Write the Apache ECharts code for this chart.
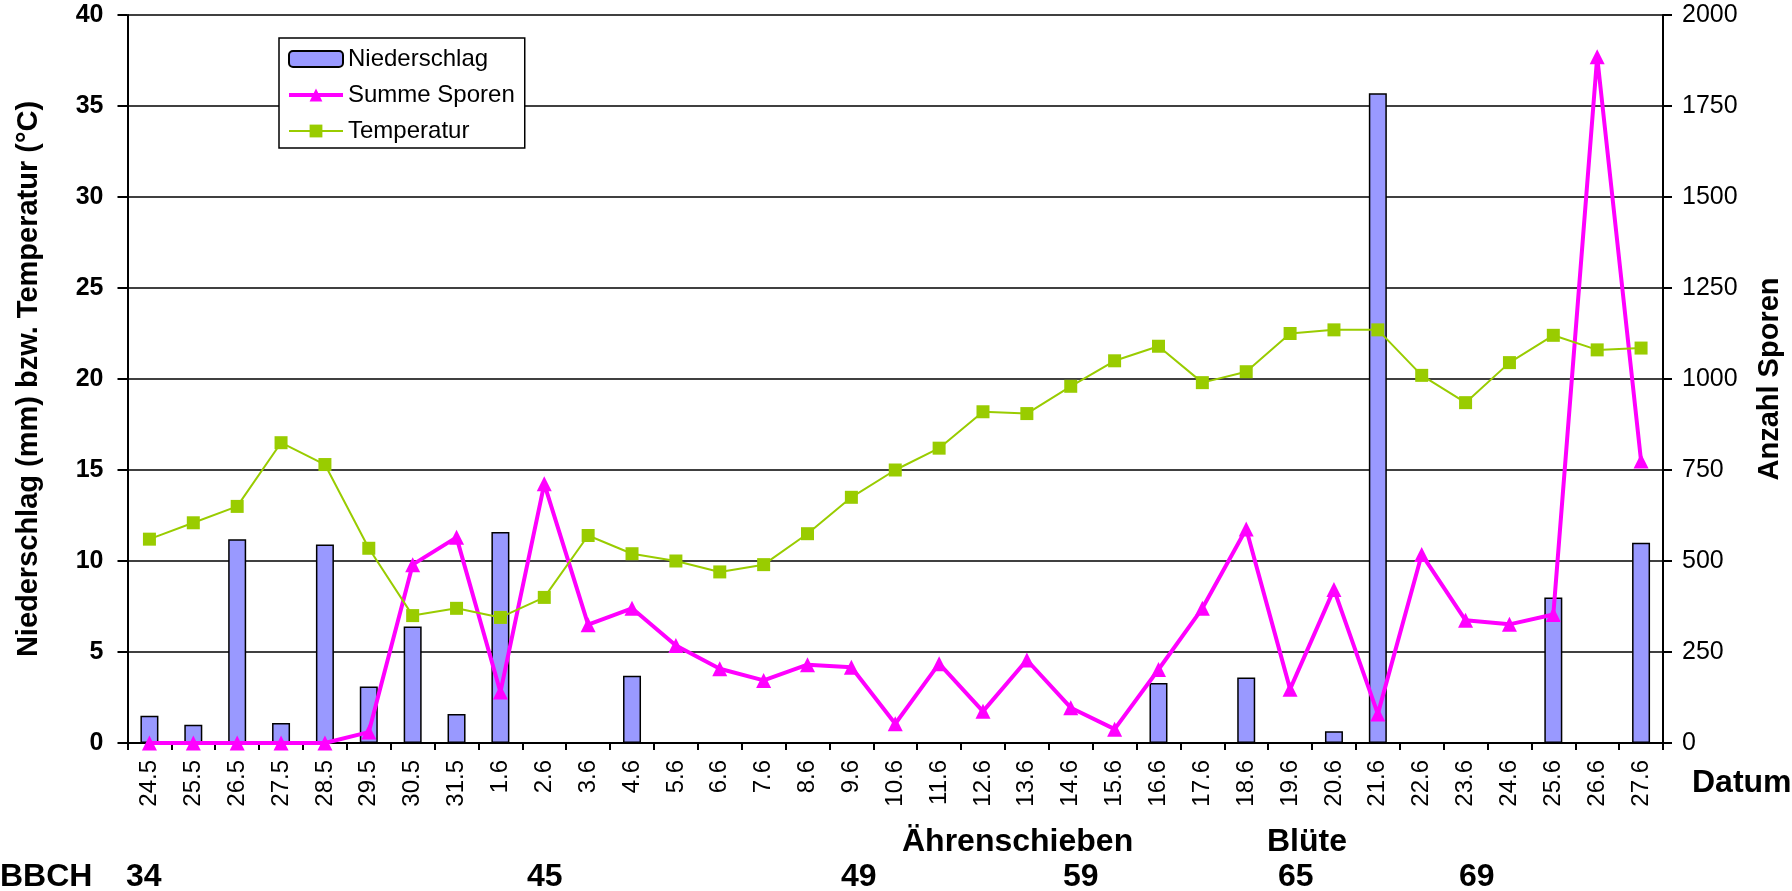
<!DOCTYPE html>
<html>
<head>
<meta charset="utf-8">
<script src="https://cdn.jsdelivr.net/npm/echarts/dist/echarts.min.js"></script>
<style>
  html, body { margin: 0; padding: 0; background: #fff; }
  #chart { width: 1792px; height: 891px; }
</style>
</head>
<body>
<div id="chart"></div>
<script>
// Datum (x-axis categories)
const dates = ['24.5', '25.5', '26.5', '27.5', '28.5', '29.5', '30.5', '31.5',
  '1.6', '2.6', '3.6', '4.6', '5.6', '6.6', '7.6', '8.6', '9.6', '10.6', '11.6',
  '12.6', '13.6', '14.6', '15.6', '16.6', '17.6', '18.6', '19.6', '20.6', '21.6',
  '22.6', '23.6', '24.6', '25.6', '26.6', '27.6'];

// Niederschlag (mm), left axis
const niederschlag = [1.5, 1.0, 11.2, 1.1, 10.9, 3.1, 6.4, 1.6,
  11.6, 0, 0, 3.7,
  0, 0, 0, 0, 0, 0, 0, 0, 0, 0, 0,
  3.3, 0, 3.6, 0, 0.65, 35.7,
  0, 0, 0, 8.0, 0, 11.0];

// Summe Sporen, right axis
const sporen = [0, 0, 0, 0, 0, 30, 490, 565,
  140, 712, 325, 370,
  268, 204, 172, 215, 208, 53, 218, 87, 228, 97, 38,
  202, 370, 588, 148, 422, 80,
  518, 337, 326, 353, 1885, 775];

// Temperatur (°C), left axis
const temperatur = [11.2, 12.1, 13.0, 16.5, 15.3, 10.7, 7.0, 7.4,
  6.9, 8.0, 11.4, 10.4,
  10.0, 9.4, 9.8, 11.5, 13.5, 15.0, 16.2, 18.2, 18.1, 19.6, 21.0,
  21.8, 19.8, 20.4, 22.5, 22.7, 22.7,
  20.2, 18.7, 20.9, 22.4, 21.6, 21.7];

// BBCH stages and phase names below the axis
const bbchStages = ['34', '45', '49', '59', '65', '69'];
const phases = ['Ährenschieben', 'Blüte'];

const FONT = '"Liberation Sans", Arial, sans-serif';
const MAGENTA = '#FF00FF';
const GREEN = '#99CC00';

// where the annotation texts sit (pixels)
const bbchX = [126, 527, 841, 1063, 1278, 1459];
const phaseX = [902, 1267];

const graphics = [
  { type: 'text', left: 0, top: 861, style: { text: 'BBCH', font: 'bold 32px ' + FONT, fill: '#000' } },
  { type: 'text', left: 1692, top: 767, style: { text: 'Datum', font: 'bold 32px ' + FONT, fill: '#000' } }
];
bbchStages.forEach(function (s, i) {
  graphics.push({ type: 'text', left: bbchX[i], top: 861, style: { text: s, font: 'bold 32px ' + FONT, fill: '#000' } });
});
phases.forEach(function (p, i) {
  graphics.push({ type: 'text', left: phaseX[i], top: 826, style: { text: p, font: 'bold 32px ' + FONT, fill: '#000' } });
});

const chart = echarts.init(document.getElementById('chart'));
chart.setOption({
  animation: false,
  backgroundColor: '#fff',
  textStyle: { fontFamily: FONT, color: '#000' },
  grid: { left: 127.5, right: 115.5, top: 15, bottom: 148 },
  legend: {
    orient: 'vertical',
    left: 279,
    top: 38,
    padding: [7, 10, 3, 8],
    itemGap: 8,
    itemWidth: 54,
    itemHeight: 16,
    itemTextGap: 6,
    borderColor: '#000',
    borderWidth: 1.5,
    borderRadius: 0,
    backgroundColor: '#fff',
    textStyle: { fontSize: 24, color: '#000', fontFamily: FONT, lineHeight: 28 },
    data: [
      { name: 'Niederschlag' },
      { name: 'Summe Sporen', lineStyle: { width: 4, color: MAGENTA } },
      { name: 'Temperatur', lineStyle: { width: 2, color: GREEN } }
    ]
  },
  xAxis: {
    type: 'category',
    data: dates,
    boundaryGap: true,
    axisLine: { lineStyle: { color: '#000', width: 2 } },
    axisTick: { show: true, interval: 0, length: 7, lineStyle: { color: '#000', width: 2 } },
    axisLabel: { interval: 0, rotate: 90, fontSize: 24, color: '#000', margin: 17, fontFamily: FONT },
    splitLine: { show: false }
  },
  yAxis: [
    {
      type: 'value', min: 0, max: 40, interval: 5, position: 'left',
      name: 'Niederschlag (mm) bzw. Temperatur (°C)',
      nameLocation: 'middle', nameGap: 84, nameRotate: 90,
      nameTextStyle: { fontSize: 29, fontWeight: 'bold', color: '#000', fontFamily: FONT },
      axisLine: { show: true, lineStyle: { color: '#000', width: 2 } },
      axisTick: { show: true, length: 10, lineStyle: { color: '#000', width: 2 } },
      axisLabel: { fontSize: 25, fontWeight: 'bold', color: '#000', margin: 24, fontFamily: FONT },
      splitLine: { show: true, lineStyle: { color: '#000', width: 1.5 } }
    },
    {
      type: 'value', min: 0, max: 2000, interval: 250, position: 'right',
      name: 'Anzahl Sporen',
      nameLocation: 'middle', nameGap: 92, nameRotate: 90,
      nameTextStyle: { fontSize: 29, fontWeight: 'bold', color: '#000', fontFamily: FONT },
      axisLine: { show: true, lineStyle: { color: '#000', width: 2 } },
      axisTick: { show: true, length: 9, lineStyle: { color: '#000', width: 2 } },
      axisLabel: {
        fontSize: 25, color: '#000', margin: 19, fontFamily: FONT,
        formatter: function (v) { return String(v); }
      },
      splitLine: { show: false }
    }
  ],
  series: [
    {
      name: 'Niederschlag',
      type: 'bar',
      yAxisIndex: 0,
      barWidth: 18,
      data: niederschlag,
      itemStyle: { color: '#9999FF', borderColor: '#000', borderWidth: 1.5 }
    },
    {
      name: 'Summe Sporen',
      type: 'line',
      yAxisIndex: 1,
      data: sporen,
      symbol: 'triangle',
      symbolSize: 15,
      showAllSymbol: true,
      lineStyle: { color: MAGENTA, width: 4 },
      itemStyle: { color: MAGENTA }
    },
    {
      name: 'Temperatur',
      type: 'line',
      yAxisIndex: 0,
      data: temperatur,
      symbol: 'rect',
      symbolSize: 13,
      showAllSymbol: true,
      lineStyle: { color: GREEN, width: 2 },
      itemStyle: { color: GREEN }
    }
  ],
  graphic: graphics
});
</script>
</body>
</html>
